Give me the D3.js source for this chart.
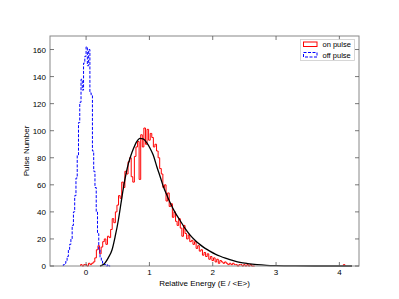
<!DOCTYPE html>
<html><head><meta charset="utf-8">
<script src="https://cdn.jsdelivr.net/npm/d3@7"></script>
<style>body{margin:0;background:#fff}svg{display:block}text{font-family:"Liberation Sans",Arial,sans-serif;fill:#000}</style>
</head><body><svg id="c" width="399" height="299"></svg>
<script>
// Off pulse histogram (bin centers, counts), bin width 0.02
const offX = [-0.35,-0.33,-0.31,-0.29,-0.27,-0.25,-0.23,-0.21,-0.19,-0.17,-0.15,-0.13,-0.11,-0.09,-0.07,-0.05,-0.03,-0.01,0.01,0.03,0.05,0.07,0.09,0.11,0.13,0.15,0.17,0.19,0.21,0.23,0.25,0.27,0.29,0.31,0.33,0.35,0.37];
const offY = [1,2,4,7,12,16,20,30,40,52,65,82,106,121,138,130,150,155,162,148,160,128,126,85,70,58,40,24,12,6,4,2,1,1,0,1,0];
// On pulse histogram (bin centers, counts), bin width 0.025
const onX = [-0.075,-0.05,-0.025,0,0.025,0.05,0.075,0.1,0.125,0.15,0.175,0.2,0.225,0.25,0.275,0.3,0.325,0.35,0.375,0.4,0.425,0.45,0.475,0.5,0.525,0.55,0.575,0.6,0.625,0.65,0.675,0.7,0.725,0.75,0.775,0.8,0.825,0.85,0.875,0.9,0.925,0.95,0.975,1.0,1.025,1.05,1.075,1.1,1.125,1.15,1.175,1.2,1.225,1.25,1.275,1.3,1.325,1.35,1.375,1.4,1.425,1.45,1.475,1.5,1.525,1.55,1.575,1.6,1.625,1.65,1.675,1.7,1.725,1.75,1.775,1.8,1.825,1.85,1.875,1.9,1.925,1.95,1.975,2.0,2.025,2.05,2.075,2.1,2.125,2.15,2.175,2.2,2.225,2.25,2.275,2.3,2.325,2.35,2.375,2.4,2.425,2.45,2.475,2.5,2.525,2.55,2.575,2.6,2.625,2.65];
const onY = [1,0,1,1,0,2,1,2,3,6,12,15,9,14,18,20,16,22,21,27,35,32,40,45,52,50,62,58,70,68,77,80,66,62,81,88,92,64,97,88,102,90,101,93,98,95,88,90,85,80,72,68,58,60,48,54,44,46,36,40,33,30,35,28,22,30,24,20,23,18,19,16,18,13,15,11,12,8,10,7,9,5,7,4,6,3,5,2,4,3,2,3,2,1,2,1,2,1,1,0,1,1,0,1,0,1,0,1,0,0];
const onOutX = [4.075];
const onOutY = [1];
// Fitted curve
const fitX = [0.22,0.25,0.3,0.35,0.41,0.46,0.51,0.55,0.59,0.63,0.67,0.71,0.75,0.8,0.85,0.9,0.96,1.01,1.06,1.12,1.17,1.22,1.28,1.33,1.4,1.48,1.56,1.64,1.72,1.8,1.88,1.96,2.04,2.12,2.2,2.27,2.35,2.43,2.55,2.7,2.85,3.0,3.3,3.6,4.2];
const fitY = [0,0.5,2.3,6,12,22,34,46,58,68,76,82,87,92,94.4,94,91,87,82,73,66,58.7,52,46.5,40,34,28,23,19,15.8,13,10.8,8.8,7.2,5.8,4.7,3.6,2.7,1.8,1,0.5,0.25,0.05,0,0];
const xTicks = [0,1,2,3,4];
const yTicks = [0,20,40,60,80,100,120,140,160];
const legendLabels = ["on pulse","off pulse"];

const svg = d3.select("#c");
const L=50,R=359,T=36,B=266;
const x = d3.scaleLinear().domain([-0.57,4.31]).range([L,R]);
const y = d3.scaleLinear().domain([0,170]).range([B,T]);

function stepPath(xs, ys, w){
  let p = "";
  xs.forEach((c,i)=>{
    const x0=x(c-w/2), x1=x(c+w/2), yy=y(ys[i]);
    if(i===0) p += `M${x0},${y(0)}L${x0},${yy}`; else p += `L${x0},${yy}`;
    p += `L${x1},${yy}`;
    if(i===xs.length-1) p += `L${x1},${y(0)}`;
  });
  return p;
}
const g = svg.append("g");
g.append("path").attr("d", stepPath(onX,onY,0.025)).attr("fill","none").attr("stroke","#ff0000").attr("stroke-width",1);
g.append("path").attr("d", stepPath(onOutX,onOutY,0.025)).attr("fill","none").attr("stroke","#ff0000").attr("stroke-width",1);
g.append("path").attr("d", stepPath(offX,offY,0.02)).attr("fill","none").attr("stroke","#0000ff").attr("stroke-width",1).attr("stroke-dasharray","3,1.5");
const line = d3.line().x((d,i)=>x(fitX[i])).y((d,i)=>y(fitY[i])).curve(d3.curveMonotoneX);
g.append("path").attr("d", line(fitX)).attr("fill","none").attr("stroke","#000").attr("stroke-width",1.3);

// frame
svg.append("rect").attr("x",L).attr("y",T).attr("width",R-L).attr("height",B-T).attr("fill","none").attr("stroke","#888").attr("stroke-width",1);
// ticks inward
const tk = svg.append("g").attr("stroke","#555").attr("stroke-width",0.8);
xTicks.forEach(t=>{
  tk.append("line").attr("x1",x(t)).attr("x2",x(t)).attr("y1",B).attr("y2",B-4);
  tk.append("line").attr("x1",x(t)).attr("x2",x(t)).attr("y1",T).attr("y2",T+4);
});
yTicks.forEach(t=>{
  tk.append("line").attr("x1",L).attr("x2",L+4).attr("y1",y(t)).attr("y2",y(t));
  tk.append("line").attr("x1",R).attr("x2",R-4).attr("y1",y(t)).attr("y2",y(t));
});
xTicks.forEach(t=>svg.append("text").attr("x",x(t)).attr("y",B+9).attr("text-anchor","middle").attr("font-size",8).text(t));
yTicks.forEach(t=>svg.append("text").attr("x",L-4).attr("y",y(t)+3).attr("text-anchor","end").attr("font-size",8).text(t));
svg.append("text").attr("x",(L+R)/2).attr("y",286).attr("text-anchor","middle").attr("font-size",8).text("Relative Energy (E / <E>)");
svg.append("text").attr("transform",`translate(29,${(T+B)/2}) rotate(-90)`).attr("text-anchor","middle").attr("font-size",8).text("Pulse Number");

// legend
const lg = svg.append("g");
lg.append("rect").attr("x",300.5).attr("y",39.5).attr("width",54).attr("height",21).attr("fill","#fff").attr("stroke","#ccc").attr("stroke-width",0.8);
lg.append("rect").attr("x",303.5).attr("y",42).attr("width",13.5).attr("height",4.5).attr("fill","none").attr("stroke","#ff0000").attr("stroke-width",1);
lg.append("rect").attr("x",303.5).attr("y",52.5).attr("width",13.5).attr("height",4.5).attr("fill","none").attr("stroke","#0000ff").attr("stroke-width",1).attr("stroke-dasharray","3,1.5");
lg.append("text").attr("x",322.5).attr("y",47.3).attr("font-size",7.5).text(legendLabels[0]);
lg.append("text").attr("x",322.5).attr("y",57.8).attr("font-size",7.5).text(legendLabels[1]);
</script></body></html>
